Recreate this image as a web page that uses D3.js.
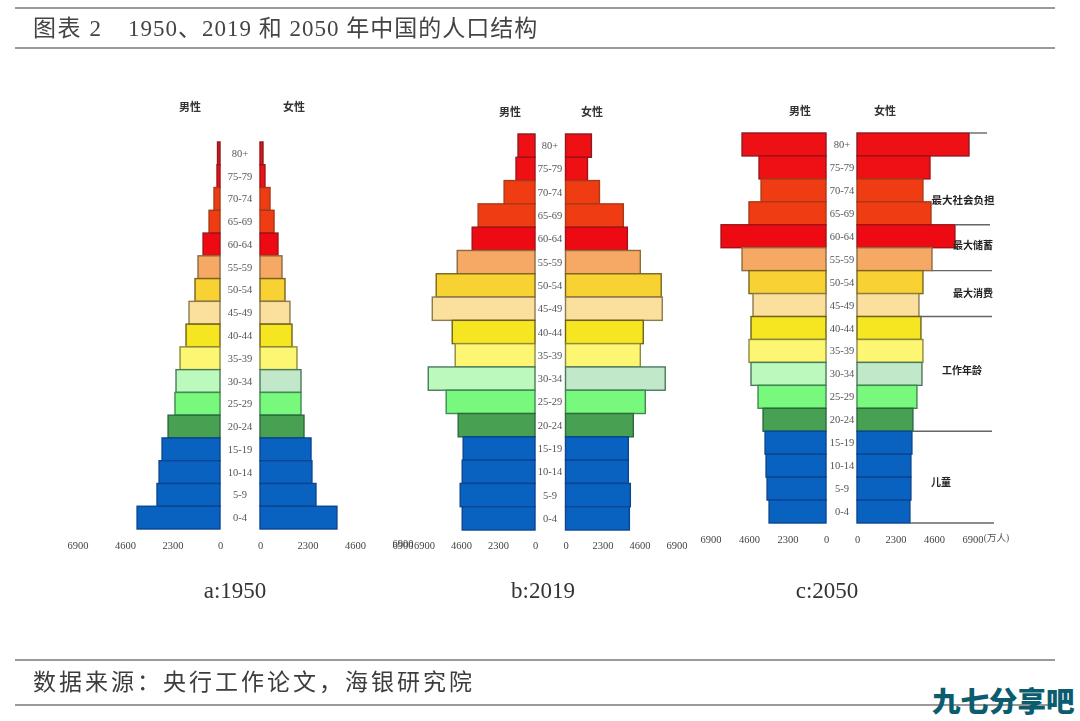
<!DOCTYPE html>
<html><head><meta charset="utf-8">
<script src="https://cdn.jsdelivr.net/npm/d3@7"></script>
<style>
html,body{margin:0;padding:0;background:#fff;overflow:hidden}
svg{display:block}
.blur{filter:blur(.55px)}
</style></head><body>
<svg id="c" width="1080" height="721"></svg>
<script>
const ages=["80+","75-79","70-74","65-69","60-64","55-59","50-54","45-49","40-44","35-39","30-34","25-29","20-24","15-19","10-14","5-9","0-4"];
const male1950=[120,145,290,530,820,1065,1210,1500,1645,1935,2130,2180,2515,2805,2950,3050,4015];
const female1950=[145,240,485,680,870,1065,1210,1450,1550,1790,1985,1985,2130,2470,2515,2710,3725];
const male2019=[1055,1180,1920,3535,3905,4835,6140,6385,5145,4960,6635,5520,4775,4465,4525,4650,4525];
const female2019=[1610,1365,2110,3595,3845,4650,5950,6015,4835,4650,6200,4960,4215,3905,3905,4030,3970];
const male2050=[5015,4000,3880,4600,6270,5015,4600,4360,4480,4600,4480,4060,3760,3640,3580,3520,3400];
const female2050=[6690,4360,3940,4420,5850,4480,3940,3700,3820,3940,3880,3580,3340,3280,3220,3220,3160];
const tickValues=[0,2300,4600,6900];
const fillsMale=["#ee1015","#ee1015","#f03c12","#f03c12","#ee0a12","#f5a964","#f8d232","#fbdf9c","#f6e622","#fdf672","#bcf9bc","#78f87c","#48a052","#0a62c0","#0a62c0","#0a62c0","#0a62c0"];
const fillsFemale=["#ee1015","#ee1015","#f03c12","#f03c12","#ee0a12","#f5a964","#f8d232","#fbdf9c","#f6e622","#fdf672","#c2e8ca","#78f87c","#48a052","#0a62c0","#0a62c0","#0a62c0","#0a62c0"];
const strokes=["#8c1a20","#a01218","#a83a18","#a83a18","#a01218","#8c6a40","#7a6420","#8c7a50","#6e6218","#8c8a40","#4a7a5c","#3e8a50","#2a6a3c","#0a4590","#0a4590","#0a4590","#0a4590"];
const bandNotes=["最大社会负担","最大储蓄","最大消费","工作年龄","儿童"];
const bandBreaks=["80+","60-64","55-59","45-49","20-24","0-4"];

const panels=[
 {m:male1950,f:female1950,mz:220,fz:260,ppu:47.5/2300,top:142,bot:529,axisY:539,label:"a:1950",lx:235,gy:107,gm:190,gf:294,cx:240},
 {m:male2019,f:female2019,mz:535,fz:565.5,ppu:37/2300,top:134,bot:530,axisY:539,label:"b:2019",lx:543,gy:112,gm:510,gf:592,cx:550},
 {m:male2050,f:female2050,mz:826,fz:857,ppu:38.5/2300,top:133,bot:523,axisY:533,label:"c:2050",lx:827,gy:111,gm:800,gf:885,cx:842}
];
const serif='"Liberation Serif","Noto Sans CJK SC",serif';
const cjk='"Noto Sans CJK SC",sans-serif';
const svg=d3.select("#c");
const root=svg.append("g").attr("class","blur");

function rule(y){root.append("line").attr("x1",15).attr("x2",1055).attr("y1",y).attr("y2",y).attr("stroke","#9a9a9a").attr("stroke-width",2);}
[8,48,660,705].forEach(rule);

root.append("text").attr("x",33).attr("y",36).attr("font-family",serif).attr("font-size",23).attr("fill","#444")
  .attr("letter-spacing",1.6).attr("xml:space","preserve").text("图表 2");
root.append("text").attr("x",128).attr("y",36).attr("font-family",serif).attr("font-size",23).attr("fill","#444")
  .attr("letter-spacing",1).text("1950、2019 和 2050 年中国的人口结构");
root.append("text").attr("x",33).attr("y",690).attr("font-family",cjk).attr("font-size",23).attr("fill","#3c3c3c")
  .attr("letter-spacing",3).text("数据来源：央行工作论文，海银研究院");

panels.forEach(p=>{
  const g=root.append("g");
  const y=d3.scaleBand().domain(ages).range([p.top,p.bot]);
  const xm=d3.scaleLinear().domain([0,6900]).range([p.mz,p.mz-6900*p.ppu]);
  const xf=d3.scaleLinear().domain([0,6900]).range([p.fz,p.fz+6900*p.ppu]);
  p.y=y;p.xf=xf;p.xm=xm;
  g.selectAll("rect.m").data(ages).join("rect").attr("class","m")
    .attr("x",(d,i)=>xm(p.m[i])).attr("y",d=>y(d)).attr("width",(d,i)=>p.mz-xm(p.m[i])).attr("height",y.bandwidth())
    .attr("fill",(d,i)=>fillsMale[i]).attr("stroke",(d,i)=>strokes[i]).attr("stroke-width",1.4);
  g.selectAll("rect.f").data(ages).join("rect").attr("class","f")
    .attr("x",p.fz).attr("y",d=>y(d)).attr("width",(d,i)=>xf(p.f[i])-p.fz).attr("height",y.bandwidth())
    .attr("fill",(d,i)=>fillsFemale[i]).attr("stroke",(d,i)=>strokes[i]).attr("stroke-width",1.4);
  g.selectAll("text.age").data(ages).join("text").attr("class","age")
    .attr("x",p.cx).attr("y",d=>y(d)+y.bandwidth()/2+3.5).attr("text-anchor","middle")
    .attr("font-family",serif).attr("font-size",10.5).attr("fill","#555").text(d=>d);
  [[xm,p.axisY],[xf,p.axisY]].forEach(([sc,ay])=>{
    const a=g.append("g").attr("transform",`translate(0,${ay})`)
      .call(d3.axisBottom(sc).tickValues(tickValues).tickSize(0).tickFormat(d3.format("d")));
    a.select(".domain").remove();
    a.selectAll("text").attr("font-family",serif).attr("font-size",10.5).attr("fill","#444");
  });
  [[p.gm,"男性"],[p.gf,"女性"]].forEach(([x,t])=>g.append("text").attr("x",x).attr("y",p.gy+4)
    .attr("text-anchor","middle").attr("font-family",cjk).attr("font-weight",700).attr("font-size",11).attr("fill","#333").text(t));
  g.append("text").attr("x",p.lx).attr("y",598).attr("text-anchor","middle")
    .attr("font-family",serif).attr("font-size",23).attr("fill","#333").text(p.label);
});

// panel a carries no female 6900 label; panel b repeats 6900 on the male side
root.selectAll("g").filter(function(){return false;});
const pa=panels[0],pb=panels[1],pc=panels[2];
root.append("text").attr("x",pb.xm(6900)-21).attr("y",547).attr("text-anchor","middle")
  .attr("font-family",serif).attr("font-size",10.5).attr("fill","#444").text("6900");
root.append("text").attr("x",pc.xf(6900)+24).attr("y",541).attr("text-anchor","middle")
  .attr("font-family",serif).attr("font-size",9.5).attr("fill","#555").text("(万人)");

const noteG=root.append("g");
const edge=(a,i)=>i===0?pc.y(a):(a==="0-4"?pc.y(a)+pc.y.bandwidth():pc.y(a)+pc.y.bandwidth());
const breakY=[pc.y("80+"),pc.y("60-64"),pc.y("55-59")+pc.y.bandwidth(),pc.y("45-49")+pc.y.bandwidth(),pc.y("20-24")+pc.y.bandwidth(),pc.y("0-4")+pc.y.bandwidth()];
const breakIdx=[0,4,5,7,12,16];
breakY.forEach((yy,i)=>{
  const k=breakIdx[i];
  noteG.append("line").attr("x1",pc.xf(female2050[k])).attr("x2",[987,990,992,992,992,994][i])
    .attr("y1",yy).attr("y2",yy).attr("stroke","#666").attr("stroke-width",1.4);
});
const noteX=[963,973,973,962,941];
bandNotes.forEach((t,i)=>noteG.append("text").attr("x",noteX[i])
  .attr("y",[204,249,297,374,486][i]).attr("text-anchor","middle").attr("font-family",cjk)
  .attr("font-weight",700).attr("font-size",i===0?10.5:10).attr("fill","#222").text(t));

svg.append("text").attr("x",932).attr("y",712).attr("font-family",cjk).attr("font-weight",900)
  .attr("font-size",28.5).attr("fill","#0b5c6e").text("九七分享吧");
</script>
</body></html>
